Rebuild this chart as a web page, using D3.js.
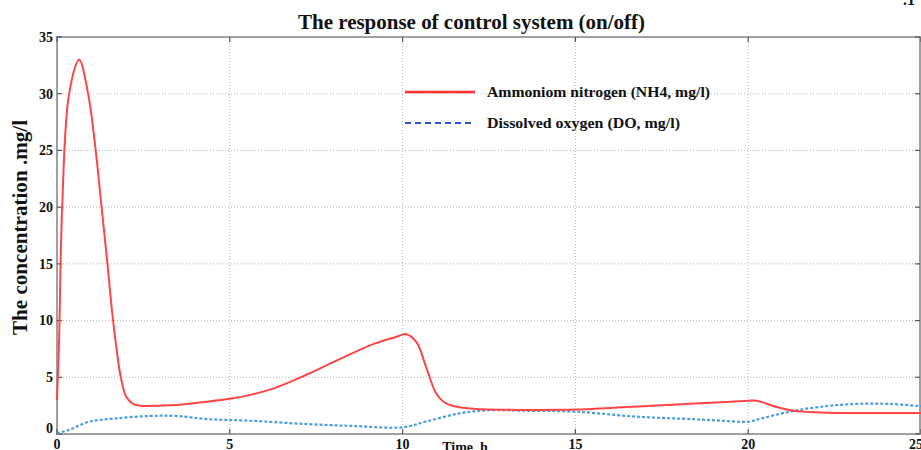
<!DOCTYPE html>
<html>
<head>
<meta charset="utf-8">
<script src="https://cdn.jsdelivr.net/npm/d3@7"></script>
<style>
  body { margin: 0; background: #fff; }
  text { font-family: "Liberation Serif", "DejaVu Serif", serif; font-weight: bold; fill: #111; }
</style>
</head>
<body>
<div id="chart"></div>
<script>
// ammonium nitrogen curve (time in h, value in mg/l)
const timeNH4 = [0, 0.06, 0.15, 0.35, 0.64, 0.9, 1.12, 1.29, 1.46, 1.6, 1.72, 1.84, 2.0, 2.2, 2.4, 3.0, 3.45, 4.2, 5.0, 5.6, 6.25, 7.2, 8.18, 9.13, 9.8, 10.1, 10.4, 10.68, 10.97, 11.26, 11.65, 12.3, 13.5, 15, 16, 17.1, 18.6, 19.5, 20.0, 20.25, 20.8, 21.3, 22.1, 23, 25];
const valueNH4 = [3, 8.3, 20.0, 30, 33.0, 30, 25, 20, 15, 10.6, 7.6, 5.1, 3.3, 2.65, 2.5, 2.5, 2.55, 2.8, 3.1, 3.45, 4.0, 5.2, 6.6, 7.9, 8.55, 8.8, 8.1, 5.9, 3.6, 2.7, 2.35, 2.18, 2.12, 2.15, 2.3, 2.47, 2.72, 2.85, 2.94, 2.94, 2.4, 2.05, 1.9, 1.85, 1.85];

// dissolved oxygen curve
const timeDO = [0, 0.38, 0.95, 1.72, 2.68, 3.45, 4.4, 5.58, 7.2, 8.65, 10.0, 10.68, 11.65, 12.5, 13.5, 15, 16.75, 18.45, 19.25, 20.0, 20.4, 21.2, 22.1, 23.1, 24.07, 25];
const valueDO = [0.05, 0.4, 1.1, 1.38, 1.59, 1.59, 1.3, 1.17, 0.88, 0.7, 0.59, 1.1, 1.82, 2.1, 2.05, 1.97, 1.53, 1.3, 1.17, 1.08, 1.38, 1.97, 2.4, 2.65, 2.65, 2.45];

const xTicks = [0, 5, 10, 15, 20, 25];
const yTicks = [0, 5, 10, 15, 20, 25, 30, 35];
const legendLabels = ["Ammoniom nitrogen (NH4, mg/l)", "Dissolved oxygen (DO, mg/l)"];

const W = 921, H = 450;
const margin = { top: 37, right: 0, bottom: 16, left: 57 };

const svg = d3.select("#chart").append("svg")
    .attr("width", W)
    .attr("height", H);

const x = d3.scaleLinear().domain([0, 25]).range([margin.left, W]);
const y = d3.scaleLinear().domain([0, 35]).range([H - margin.bottom, margin.top]);

// grid lines (dotted)
svg.append("g").selectAll("line")
    .data(xTicks.slice(1, -1))
    .join("line")
    .attr("x1", d => x(d)).attr("x2", d => x(d))
    .attr("y1", y(35)).attr("y2", y(0))
    .attr("stroke", "#b5b5b5")
    .attr("stroke-dasharray", "1,2");

svg.append("g").selectAll("line")
    .data(yTicks.slice(1, -1))
    .join("line")
    .attr("x1", x(0)).attr("x2", x(25))
    .attr("y1", d => y(d)).attr("y2", d => y(d))
    .attr("stroke", "#b5b5b5")
    .attr("stroke-dasharray", "1,2");

// frame
svg.append("rect")
    .attr("x", x(0)).attr("y", y(35))
    .attr("width", x(25) - x(0) - 1)
    .attr("height", y(0) - y(35))
    .attr("fill", "none")
    .attr("stroke", "#a0a0a0")
    .attr("stroke-width", 2);

// tick marks pointing inward
const tickG = svg.append("g").attr("stroke", "#555").attr("stroke-width", 1.2);
xTicks.forEach(t => {
    tickG.append("line").attr("x1", x(t)).attr("x2", x(t)).attr("y1", y(0)).attr("y2", y(0) - 5);
    tickG.append("line").attr("x1", x(t)).attr("x2", x(t)).attr("y1", y(35)).attr("y2", y(35) + 5);
});
yTicks.forEach(v => {
    tickG.append("line").attr("x1", x(0)).attr("x2", x(0) + 5).attr("y1", y(v)).attr("y2", y(v));
    tickG.append("line").attr("x1", x(25) - 1).attr("x2", x(25) - 6).attr("y1", y(v)).attr("y2", y(v));
});

// tick labels
svg.append("g").selectAll("text")
    .data(yTicks)
    .join("text")
    .attr("x", x(0) - 4)
    .attr("y", d => y(d) - (d === 0 ? 6 : 0))
    .attr("dy", "0.35em")
    .attr("text-anchor", "end")
    .style("font-size", "14px")
    .text(d => d);

svg.append("g").selectAll("text")
    .data(xTicks)
    .join("text")
    .attr("x", d => x(d) - (d === 25 ? 5 : 0))
    .attr("y", 449)
    .attr("text-anchor", "middle")
    .style("font-size", "14px")
    .text(d => d);

// titles
svg.append("text")
    .attr("x", 298).attr("y", 29)
    .attr("textLength", 347)
    .attr("lengthAdjust", "spacingAndGlyphs")
    .style("font-size", "20px")
    .text("The response of control system (on/off)");

svg.append("text")
    .attr("transform", "translate(27,335) rotate(-90)")
    .attr("textLength", 215)
    .attr("lengthAdjust", "spacingAndGlyphs")
    .style("font-size", "20px")
    .text("The concentration .mg/l");

svg.append("text")
    .attr("x", 465).attr("y", 452)
    .attr("text-anchor", "middle")
    .style("font-size", "14px")
    .text("Time, h");

svg.append("text")
    .attr("x", 903).attr("y", 5)
    .style("font-size", "16px")
    .text(".1");

// curves
const line = d3.line()
    .x(d => x(d[0]))
    .y(d => y(d[1]))
    .curve(d3.curveCatmullRom.alpha(0.5));

svg.append("path")
    .datum(d3.zip(timeDO, valueDO))
    .attr("d", line)
    .attr("fill", "none")
    .attr("stroke", "#4a9be0")
    .attr("stroke-width", 2.2)
    .attr("stroke-dasharray", "3,2");

svg.append("path")
    .datum(d3.zip(timeNH4, valueNH4))
    .attr("d", line)
    .attr("fill", "none")
    .attr("stroke", "#ff4545")
    .attr("stroke-width", 2);

// legend
const legend = svg.append("g");
legend.append("line")
    .attr("x1", 405).attr("x2", 475).attr("y1", 92).attr("y2", 92)
    .attr("stroke", "#ff3030").attr("stroke-width", 2.5);
legend.append("line")
    .attr("x1", 405).attr("x2", 475).attr("y1", 123).attr("y2", 123)
    .attr("stroke", "#3355dd").attr("stroke-width", 1.8)
    .attr("stroke-dasharray", "6,4");
legend.selectAll("text.lg")
    .data(legendLabels)
    .join("text")
    .attr("class", "lg")
    .attr("x", 487)
    .attr("y", (d, i) => 92 + i * 31)
    .attr("dy", "0.35em")
    .attr("textLength", (d, i) => i === 0 ? 223 : 193)
    .attr("lengthAdjust", "spacingAndGlyphs")
    .style("font-size", "15px")
    .text(d => d);
</script>
</body>
</html>
